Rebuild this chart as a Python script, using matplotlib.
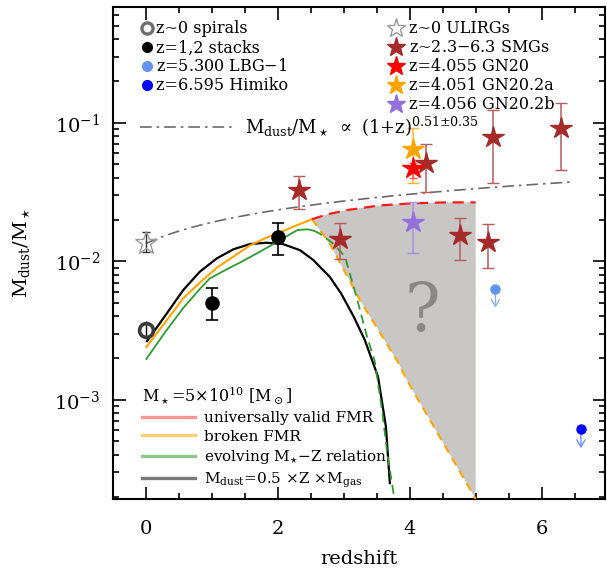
import numpy as np
import matplotlib
matplotlib.use("Agg")
import matplotlib.pyplot as plt
from matplotlib.lines import Line2D
from matplotlib.ticker import MultipleLocator, LogLocator, NullFormatter

plt.rcParams['font.family'] = ['DejaVu Serif']
plt.rcParams['mathtext.fontset'] = 'dejavuserif'

# ---------------- observations ----------------
spiral_z = [0.0]
spiral_v = [3.2e-3]
spiral_lo = [2.8e-3]
spiral_hi = [3.7e-3]

stack_z = [1.0, 2.0]
stack_v = [5.0e-3, 1.49e-2]
stack_lo = [3.76e-3, 1.10e-2]
stack_hi = [6.37e-3, 1.88e-2]

ulirg_z = [0.0]
ulirg_v = [1.36e-2]
ulirg_lo = [1.17e-2]
ulirg_hi = [1.63e-2]

smg_z = [2.32, 2.95, 4.245, 4.77, 5.19, 5.27, 6.30]
smg_v = [0.0326, 0.0144, 0.0509, 0.0155, 0.0138, 0.079, 0.091]
smg_lo = [0.0238, 0.0104, 0.0315, 0.0102, 0.0090, 0.037, 0.0455]
smg_hi = [0.0414, 0.0190, 0.0700, 0.0206, 0.0187, 0.124, 0.138]

gn20_z, gn20_v, gn20_lo, gn20_hi = [4.057], [0.0469], [0.0400], [0.0510]
gn20a_z, gn20a_v, gn20a_lo, gn20a_hi = [4.051], [0.0642], [0.0369], [0.0920]
gn20b_z, gn20b_v, gn20b_lo, gn20b_hi = [4.056], [0.0191], [0.0115], [0.0266]

lbg_z, lbg_v = [5.300], [6.3e-3]
himiko_z, himiko_v = [6.595], [6.1e-4]
limit_ratio = 0.70

# dust-to-stellar mass trend: Mdust/M* = norm * (1+z)^slope
trend_norm = 0.0134
trend_slope = 0.51
trend_zmax = 6.45

# ---------------- model tracks (M* = 5e10 Msun) ----------------
dust_z = [0.02, 0.32, 0.57, 0.82, 1.08, 1.33, 1.58, 1.83, 2.08, 2.34, 2.54,
          2.79, 2.96, 3.15, 3.32, 3.52, 3.64, 3.70]
dust_v = [2.65e-3, 4.2e-3, 6.2e-3, 8.4e-3, 1.05e-2, 1.22e-2, 1.33e-2, 1.36e-2,
          1.33e-2, 1.20e-2, 1.02e-2, 7.7e-3, 5.86e-3, 4.0e-3, 2.7e-3, 1.47e-3,
          6.4e-4, 2.5e-4]

broken_z = [0.01, 0.30, 0.57, 0.82, 1.08, 1.33, 1.58, 1.83, 2.08, 2.34, 2.52]
broken_v = [2.4e-3, 3.65e-3, 5.4e-3, 7.0e-3, 9.0e-3, 1.08e-2, 1.30e-2, 1.48e-2,
            1.65e-2, 1.86e-2, 2.01e-2]
broken_hiz_z = [2.52, 2.79, 3.25, 3.82, 3.96, 5.00]
broken_hiz_v = [2.01e-2, 1.34e-2, 5.2e-3, 1.88e-3, 1.38e-3, 1.92e-4]

universal_z = [2.52, 2.75, 3.05, 3.55, 4.05, 4.56, 5.00]
universal_v = [2.01e-2, 2.18e-2, 2.34e-2, 2.53e-2, 2.62e-2, 2.66e-2, 2.66e-2]

mz_z = [0.01, 0.30, 0.57, 0.82, 0.97, 1.20, 1.45, 1.70, 1.91, 2.10, 2.30, 2.45, 2.55]
mz_v = [1.97e-3, 3.1e-3, 4.6e-3, 6.3e-3, 7.5e-3, 8.6e-3, 9.9e-3, 1.15e-2,
        1.31e-2, 1.48e-2, 1.68e-2, 1.70e-2, 1.66e-2]
mz_hiz_z = [2.55, 2.64, 2.84, 3.02, 3.20, 3.35, 3.47, 3.58, 3.67, 3.77]
mz_hiz_v = [1.66e-2, 1.58e-2, 1.34e-2, 1.08e-2, 5.4e-3, 2.9e-3, 1.9e-3,
            8.5e-4, 3.8e-4, 1.92e-4]

# ---------------- figure ----------------
W, H = 607, 571
fig = plt.figure(figsize=(W / 100, H / 100), dpi=100)
ax = fig.add_axes([112.7 / W, 1 - 499 / H, 492.3 / W, 492.3 / H])
ax.set_yscale('log')
XMIN, XMAX = -0.5, 6.96
YMIN, YMAX = 1.92e-4, 0.688
ax.set_xlim(XMIN, XMAX)
ax.set_ylim(YMIN, YMAX)

# unexplored region between the two high-z bounds
poly_z = list(universal_z) + [universal_z[-1]] + list(broken_hiz_z[::-1])
poly_v = list(universal_v) + [YMIN] + list(broken_hiz_v[::-1])
ax.fill(poly_z, poly_v, color='#c9c6c6', lw=0, zorder=1)
ax.text(4.19, 4.3e-3, '?', fontsize=48, color='#888888', ha='center',
        va='center', zorder=1.5)

# model tracks
ax.plot(dust_z, dust_v, color='black', lw=1.6, zorder=3)
ax.plot(broken_z, broken_v, color='#ffa500', lw=1.5, zorder=3)
ax.plot(broken_hiz_z, broken_hiz_v, color='#ffa500', lw=1.5, dashes=(4, 3), zorder=3)
ax.plot(universal_z, universal_v, color='#ff1a1a', lw=1.6, dashes=(5, 3), zorder=3)
ax.plot(mz_z, mz_v, color='#2f9a2f', lw=1.3, zorder=3)
ax.plot(mz_hiz_z, mz_hiz_v, color='#2f9a2f', lw=1.3, dashes=(5, 3), zorder=3)

# power-law trend
tz = np.linspace(0.0, trend_zmax, 200)
trend, = ax.plot(tz, trend_norm * (1 + tz) ** trend_slope, color='#6a6a6a',
                 lw=1.2, dashes=(7, 3, 1.5, 3), zorder=2)


def yerr(v, lo, hi):
    v = np.asarray(v)
    return [v - np.asarray(lo), np.asarray(hi) - v]


# error bars
ax.errorbar(spiral_z, spiral_v, yerr=yerr(spiral_v, spiral_lo, spiral_hi),
            fmt='none', ecolor='black', elinewidth=1, capsize=0, zorder=4)
ax.errorbar(stack_z, stack_v, yerr=yerr(stack_v, stack_lo, stack_hi),
            fmt='none', ecolor='black', elinewidth=1.2, capsize=4, capthick=1.2, zorder=4)
ax.errorbar(ulirg_z, ulirg_v, yerr=yerr(ulirg_v, ulirg_lo, ulirg_hi),
            fmt='none', ecolor='#333333', elinewidth=1, capsize=3, zorder=5)
ax.errorbar(smg_z, smg_v, yerr=yerr(smg_v, smg_lo, smg_hi),
            fmt='none', ecolor='#b85a5a', elinewidth=1.1, capsize=4, zorder=4)
ax.errorbar(gn20a_z, gn20a_v, yerr=yerr(gn20a_v, gn20a_lo, gn20a_hi),
            fmt='none', ecolor='#ffb733', elinewidth=1.1, capsize=4, zorder=4)
ax.errorbar(gn20_z, gn20_v, yerr=yerr(gn20_v, gn20_lo, gn20_hi),
            fmt='none', ecolor='#ff5050', elinewidth=1.1, capsize=3, zorder=4)
ax.errorbar(gn20b_z, gn20b_v, yerr=yerr(gn20b_v, gn20b_lo, gn20b_hi),
            fmt='none', ecolor='#a890e0', elinewidth=1.1, capsize=4, zorder=4)

# markers
ax.plot(spiral_z, spiral_v, 'o', ms=10, mfc='none', mec='#3a3a3a', mew=2.6,
        ls='none', zorder=6)
ax.plot(stack_z, stack_v, 'o', ms=9.5, color='black', ls='none', zorder=6)
ax.plot(lbg_z, lbg_v, 'o', ms=6.5, color='#6495ed', ls='none', zorder=6)
ax.plot(himiko_z, himiko_v, 'o', ms=6.5, color='#0000ff', ls='none', zorder=6)
ax.plot(ulirg_z, ulirg_v, '*', ms=17, mfc='none', mec='#9a9a9a', mew=1.0,
        ls='none', zorder=6)
ax.plot(smg_z, smg_v, '*', ms=16, color='#a52a2a', ls='none', zorder=6)
ax.plot(gn20_z, gn20_v, '*', ms=16, color='#ff0000', ls='none', zorder=6)
ax.plot(gn20a_z, gn20a_v, '*', ms=16, color='#ffa500', ls='none', zorder=6)
ax.plot(gn20b_z, gn20b_v, '*', ms=16, color='#9370db', ls='none', zorder=6)

# upper limits
for z, v, c in [(lbg_z[0], lbg_v[0], '#8fb0f0'), (himiko_z[0], himiko_v[0], '#6f8cff')]:
    ax.annotate('', xy=(z, v * limit_ratio), xytext=(z, v),
                arrowprops=dict(arrowstyle='->,head_length=0.5,head_width=0.3',
                                color=c, lw=1.0), zorder=5)

# ---------------- legends ----------------
def key(marker, ms, **kw):
    return Line2D([], [], marker=marker, ms=ms, ls='none', **kw)


left_keys = [key('o', 8, mfc='none', mec='#6e6e6e', mew=2.4),
             key('o', 7, color='black'),
             key('o', 7, color='#6495ed'),
             key('o', 7, color='#0000ff')]
left_labels = ['z~0 spirals', 'z=1,2 stacks', 'z=5.300 LBG$-$1', 'z=6.595 Himiko']
right_keys = [key('*', 14, mfc='none', mec='#9a9a9a', mew=1.0),
              key('*', 14, color='#a52a2a'),
              key('*', 14, color='#ff0000'),
              key('*', 14, color='#ffa500'),
              key('*', 14, color='#9370db')]
right_labels = ['z~0 ULIRGs', 'z~2.3$-$6.3 SMGs', 'z=4.055 GN20',
                'z=4.051 GN20.2a', 'z=4.056 GN20.2b']

leg_a = ax.legend(handles=left_keys, labels=left_labels, loc='upper left',
                  bbox_to_anchor=(0.056, 0.972), frameon=False, fontsize=11.5,
                  borderpad=0, borderaxespad=0, handlelength=0.8,
                  handletextpad=0.2, labelspacing=0.12)
ax.add_artist(leg_a)
leg_b = ax.legend(handles=right_keys, labels=right_labels, loc='upper left',
                  bbox_to_anchor=(0.562, 0.972), frameon=False, fontsize=11.5,
                  borderpad=0, borderaxespad=0, handlelength=0.8,
                  handletextpad=0.4, labelspacing=0.12)
ax.add_artist(leg_b)
leg_c = ax.legend(handles=[trend],
                  labels=[r'M$_{\rm dust}$/M$_\star$ $\propto$ (1+z)$^{0.51{\pm}0.35}$'],
                  loc='upper left', bbox_to_anchor=(0.056, 0.781), frameon=False,
                  fontsize=13, borderpad=0, borderaxespad=0, handlelength=5.2,
                  handletextpad=0.6)
ax.add_artist(leg_c)
model_handles = [Line2D([], [], color='#ff4040', lw=2.4, alpha=0.55),
                 Line2D([], [], color='#ffa500', lw=2.4, alpha=0.55),
                 Line2D([], [], color='#2f9a2f', lw=2.4, alpha=0.55),
                 Line2D([], [], color='#202020', lw=2.4, alpha=0.6)]
model_labels = ['universally valid FMR', 'broken FMR',
                r'evolving M$_{\star}$$-$Z relation',
                r'M$_{\rm dust}$=0.5 $\times$Z $\times$M$_{\rm gas}$']
leg_d = ax.legend(handles=model_handles, labels=model_labels, loc='upper left',
                  bbox_to_anchor=(0.0587, 0.232), frameon=False, fontsize=11,
                  title=r'M$_\star$=5$\times$10$^{10}$ [M$_\odot$]', title_fontsize=11.5,
                  alignment='left', borderpad=0, borderaxespad=0, handlelength=3.5,
                  handletextpad=0.6, labelspacing=0.3)

# ---------------- axes styling ----------------
ax.xaxis.set_major_locator(MultipleLocator(2))
ax.xaxis.set_minor_locator(MultipleLocator(0.5))
ax.yaxis.set_major_locator(LogLocator(base=10))
ax.yaxis.set_minor_locator(LogLocator(base=10, subs=np.arange(2, 10)))
ax.yaxis.set_minor_formatter(NullFormatter())
ax.tick_params(which='both', direction='in', top=True, right=True, width=1.2)
ax.tick_params(which='major', length=9, labelsize=14)
ax.tick_params(which='minor', length=4.5)
ax.tick_params(axis='x', which='major', pad=15)
ax.tick_params(axis='y', which='major', pad=9)
for s in ax.spines.values():
    s.set_linewidth(1.5)

ax.set_xlabel('redshift', fontsize=14, labelpad=9)
ax.set_ylabel(r'M$_{\rm dust}$/M$_\star$', fontsize=14, labelpad=16)

fig.savefig('out.png', dpi=100)
